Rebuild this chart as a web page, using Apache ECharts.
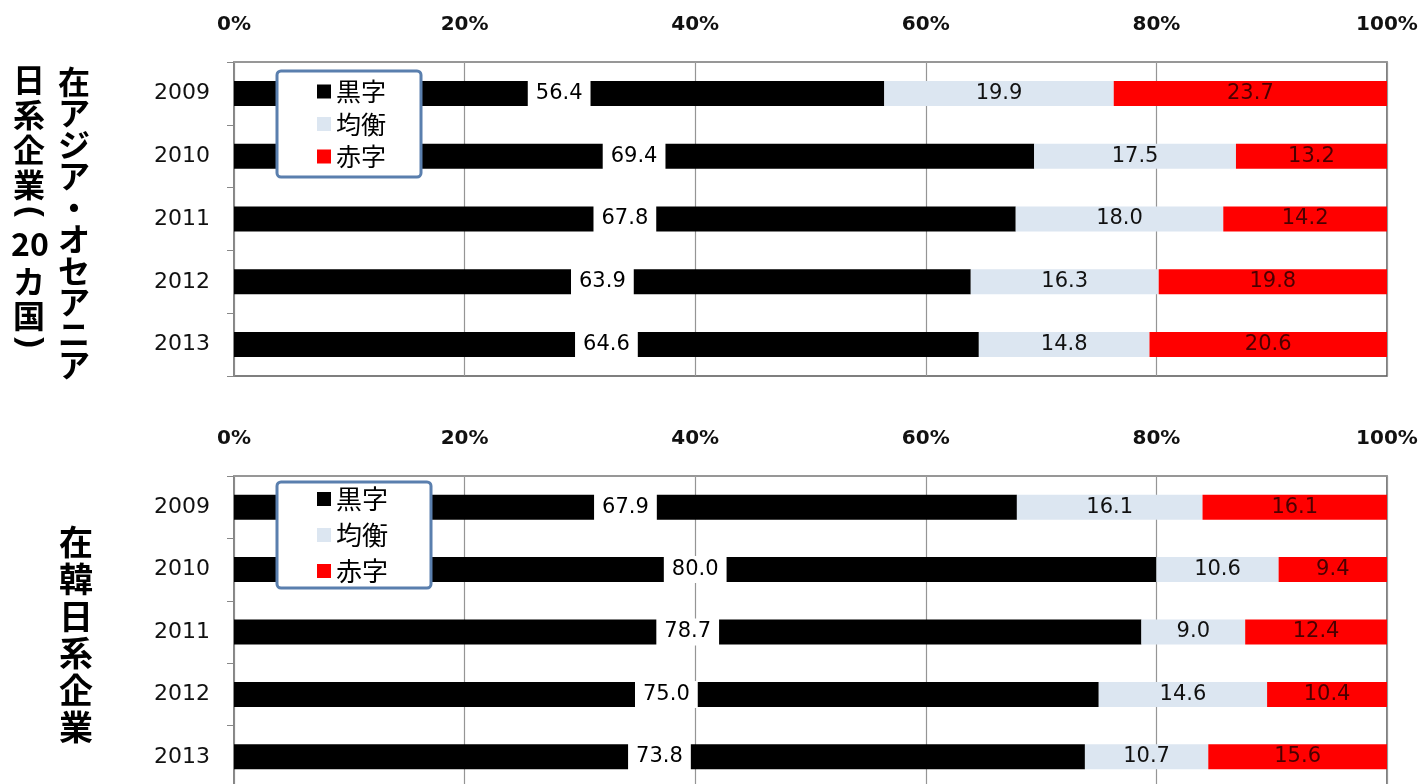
<!DOCTYPE html>
<html>
<head>
<meta charset="utf-8">
<script src="https://cdn.jsdelivr.net/npm/echarts@6/dist/echarts.min.js"></script>
<style>html,body{margin:0;padding:0;background:#fff;}#c{width:1418px;height:784px;}</style>
</head>
<body>
<div id="c"></div>
<script>
const years = ['2009', '2010', '2011', '2012', '2013'];
const seriesNames = ['黒字', '均衡', '赤字'];
const xTicks = [0, 20, 40, 60, 80, 100];
// 在アジア・オセアニア日系企業（20カ国）
const asiaProfit = [56.4, 69.4, 67.8, 63.9, 64.6];
const asiaEven = [19.9, 17.5, 18.0, 16.3, 14.8];
const asiaLoss = [23.7, 13.2, 14.2, 19.8, 20.6];
// 在韓日系企業
const korProfit = [67.9, 80.0, 78.7, 75.0, 73.8];
const korEven = [16.1, 10.6, 9.0, 14.6, 10.7];
const korLoss = [16.1, 9.4, 12.4, 10.4, 15.6];

const colors = ['#000000', '#dce6f1', '#ff0000'];
const numFont = '"DejaVu Sans"';
const jpFont = '"Noto Sans CJK JP"';

function xAxisCfg(gi) {
  return {
    gridIndex: gi, type: 'value', position: 'top', min: 0, max: 100, interval: 20,
    axisLine: { show: true, lineStyle: { color: '#a0a0a0', width: 1.5 } },
    axisTick: { show: false },
    splitLine: { show: true, lineStyle: { color: '#959595', width: 1.2 } },
    axisLabel: { margin: 27, fontSize: 20, fontWeight: 'bold', fontFamily: numFont, color: '#111',
      formatter: v => xTicks.includes(v) ? v + '%' : '' }
  };
}
function yAxisCfg(gi) {
  return {
    gridIndex: gi, type: 'category', data: years, inverse: true,
    axisLine: { show: true, lineStyle: { color: '#888', width: 1.5 } },
    axisTick: { show: true, length: 7, lineStyle: { color: '#888' } },
    axisLabel: { margin: 24, fontSize: 22, fontFamily: numFont, color: '#111' }
  };
}
function barSeries(name, data, gi, idx) {
  const label = { show: true, position: 'inside', fontSize: 21, fontFamily: numFont,
    formatter: p => p.value.toFixed(1) };
  if (idx === 0) Object.assign(label, { color: '#000', backgroundColor: '#fff', padding: [3, 8] });
  else if (idx === 1) Object.assign(label, { color: '#111' });
  else Object.assign(label, { color: '#4a0000' });
  return {
    name, type: 'bar', stack: 's' + gi, xAxisIndex: gi, yAxisIndex: gi,
    data, barWidth: 25, itemStyle: { color: colors[idx] }, label, silent: true
  };
}
function legendCfg(left, top, fontSize, gap, pad) {
  return {
    orient: 'vertical', left, top, data: seriesNames, icon: 'rect',
    itemWidth: 14, itemHeight: 14, itemGap: gap, padding: pad,
    backgroundColor: '#fff', borderColor: '#5a7fae', borderWidth: 3, borderRadius: 4,
    textStyle: { fontSize, fontFamily: jpFont, color: '#000', lineHeight: fontSize },
    selectedMode: false
  };
}
function vText(x, y, text, size, lh) {
  return { type: 'text', x, y, style: { text, font: 'bold ' + size + 'px ' + jpFont,
    lineHeight: lh, textAlign: 'center', textVerticalAlign: 'top', fill: '#000' } };
}
function rotParen(x, y, ch) {
  return { type: 'text', x, y, rotation: -Math.PI / 2, style: { text: ch, font: 'bold 34px "Noto Sans"',
    textAlign: 'center', textVerticalAlign: 'middle', fill: '#000' } };
}

const chart = echarts.init(document.getElementById('c'));
chart.setOption({
  animation: false,
  backgroundColor: '#fff',
  grid: [
    { left: 234, width: 1153, top: 62, height: 314, show: true, borderColor: '#555', borderWidth: 1.5, outerBoundsMode: 'none' },
    { left: 234, width: 1153, top: 476, height: 312, show: true, borderColor: '#555', borderWidth: 1.5, outerBoundsMode: 'none' }
  ],
  xAxis: [xAxisCfg(0), xAxisCfg(1)],
  yAxis: [yAxisCfg(0), yAxisCfg(1)],
  legend: [
    legendCfg(277, 71, 25, 7.5, [8, 35, 8, 40]),
    legendCfg(277, 482, 26, 10, [4, 43, 4, 40])
  ],
  series: [
    barSeries(seriesNames[0], asiaProfit, 0, 0),
    barSeries(seriesNames[1], asiaEven, 0, 1),
    barSeries(seriesNames[2], asiaLoss, 0, 2),
    barSeries(seriesNames[0], korProfit, 1, 0),
    barSeries(seriesNames[1], korEven, 1, 1),
    barSeries(seriesNames[2], korLoss, 1, 2)
  ],
  graphic: [
    vText(74, 66, '在\nア\nジ\nア\n・\nオ\nセ\nア\nニ\nア', 32, 31.5),
    vText(29, 62, '日\n系\n企\n業', 32, 35),
    rotParen(30, 212, '('),
    vText(30, 228, '20', 32, 32),
    vText(29, 265, 'カ\n国', 32, 34),
    rotParen(30, 342, ')'),
    vText(76, 524, '在\n韓\n日\n系\n企\n業', 34, 37)
  ]
});
</script>
</body>
</html>
